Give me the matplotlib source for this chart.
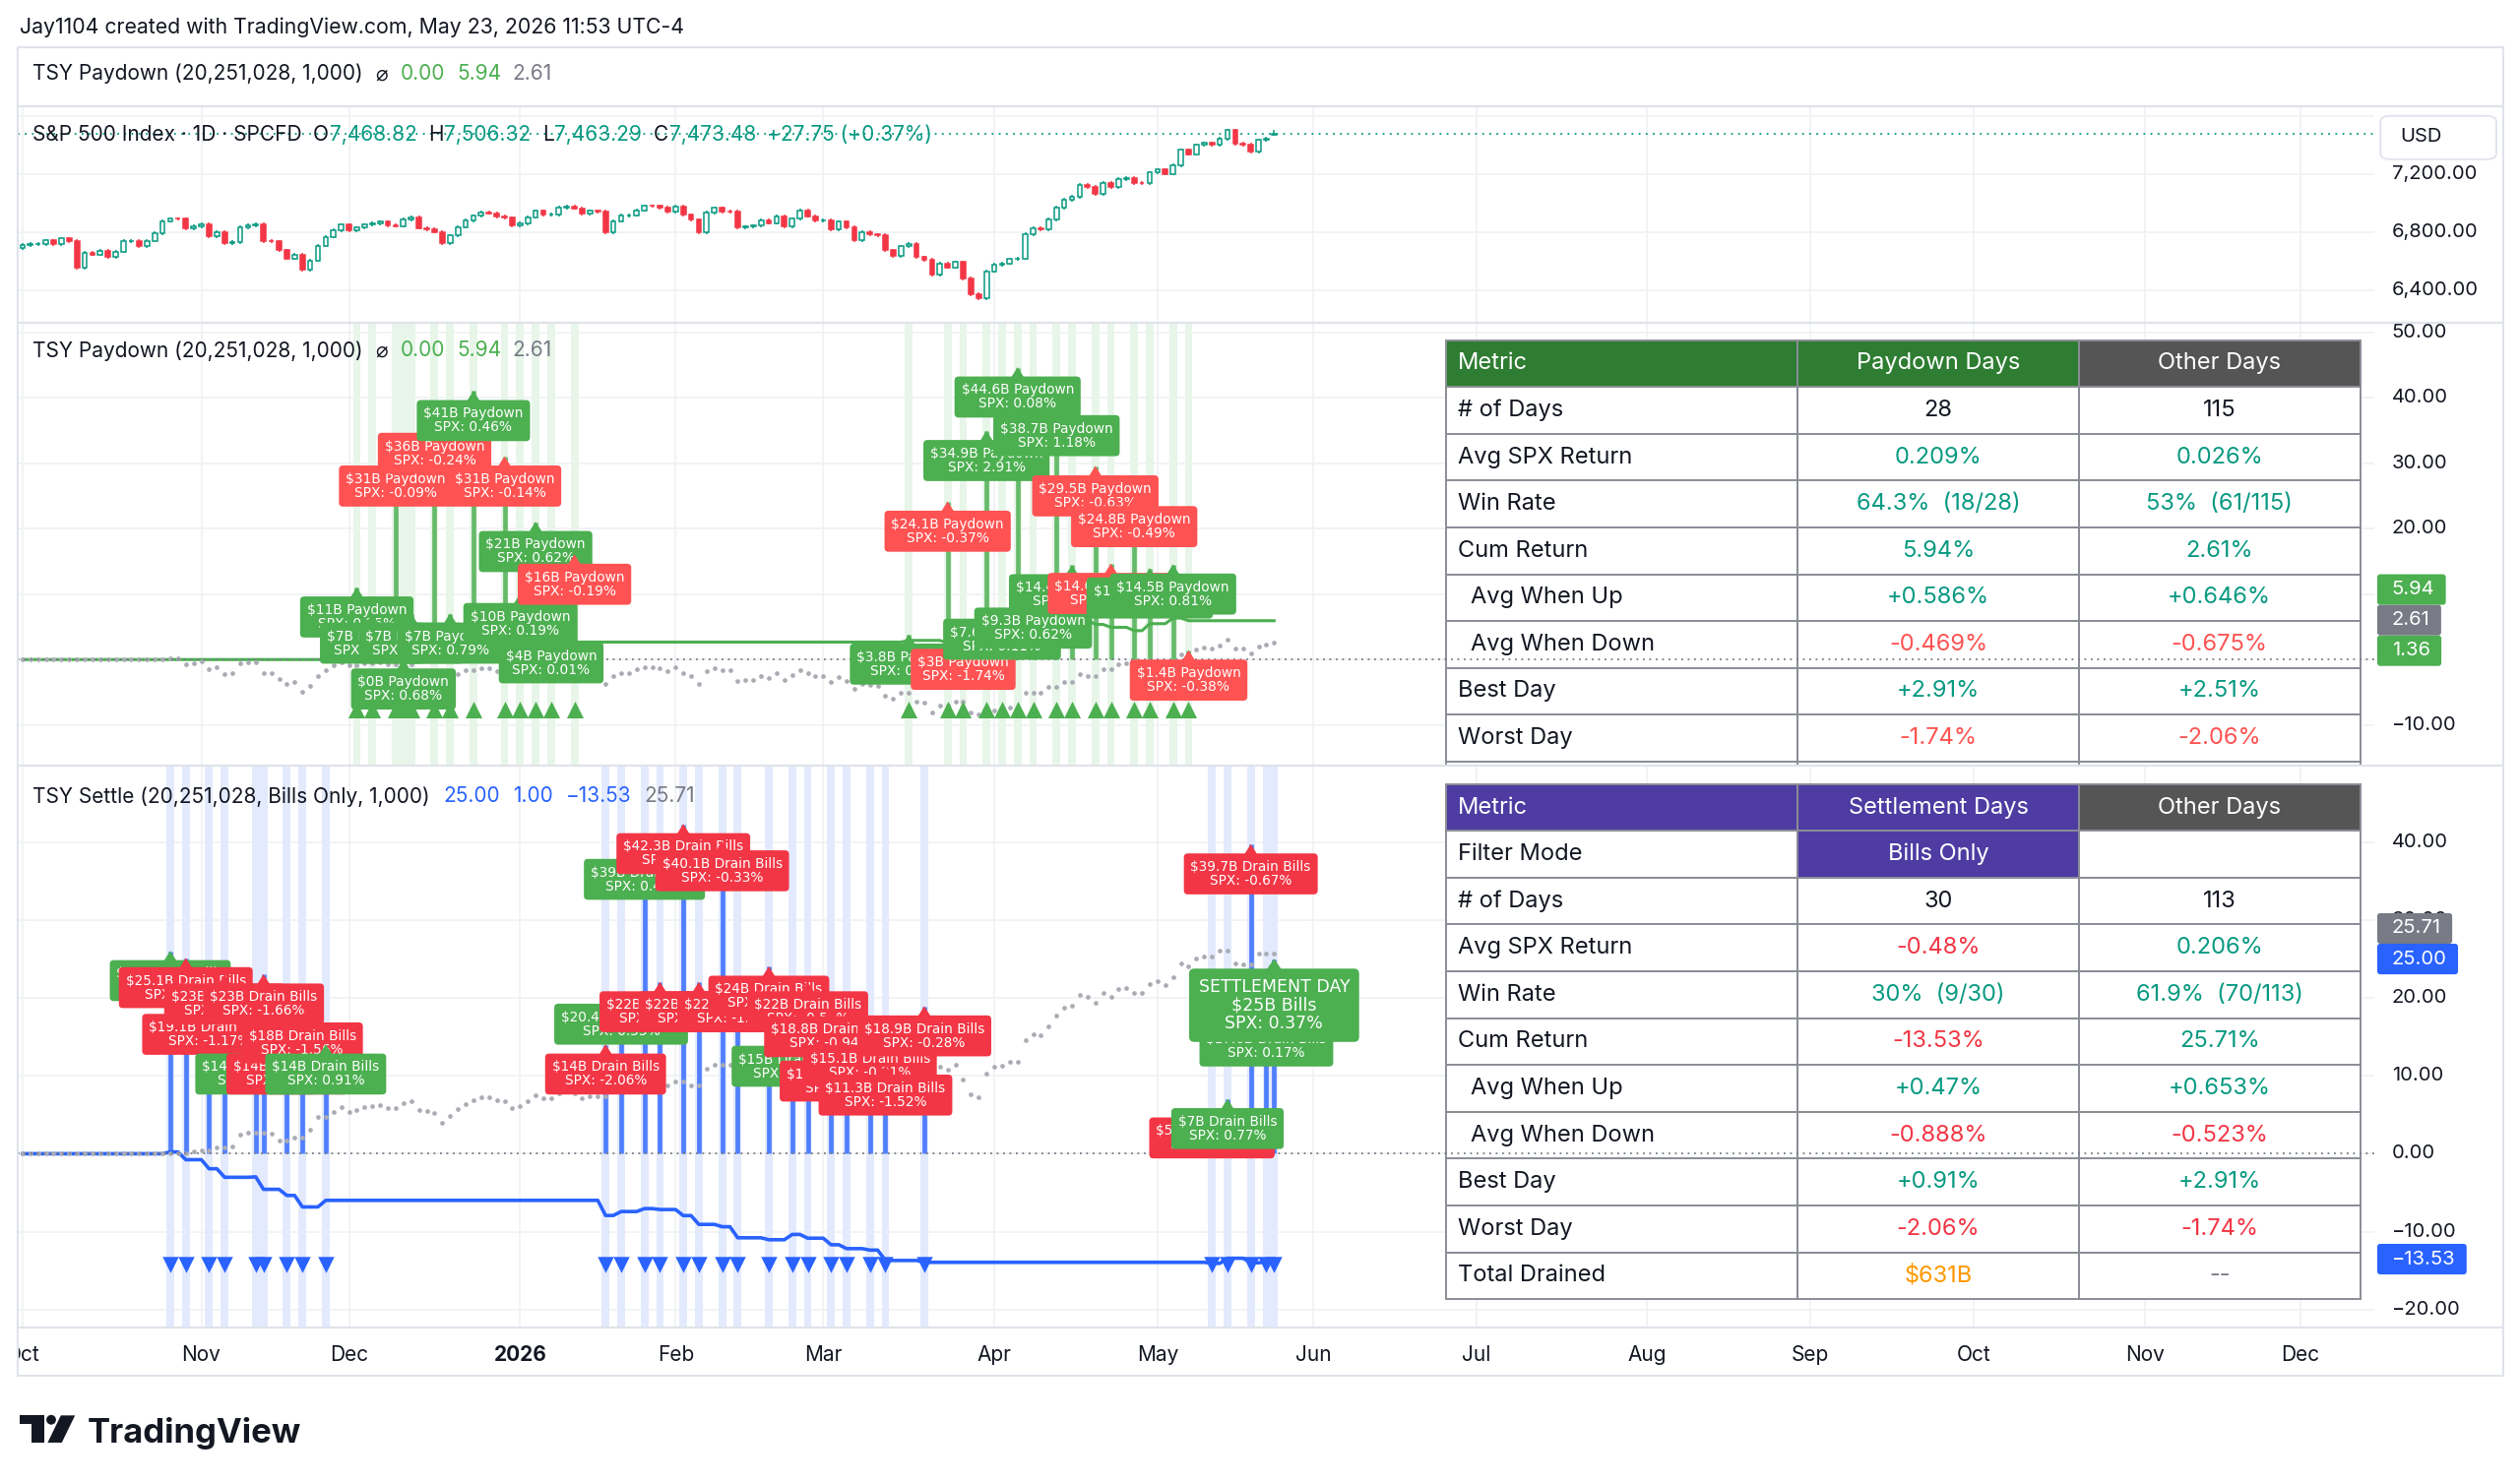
import numpy as np
import pandas as pd
import matplotlib
matplotlib.use("Agg")
import matplotlib.pyplot as plt
import matplotlib.transforms as mtrans
from matplotlib.patches import Rectangle, FancyBboxPatch, Polygon, Ellipse
from matplotlib.lines import Line2D

# ============================ DATA ============================
title_text = "Jay1104 created with TradingView.com, May 23, 2026 11:53 UTC-4"
holidays = ["2025-11-27", "2025-12-25", "2026-01-01", "2026-01-19", "2026-02-16",
            "2026-04-03", "2026-05-25", "2026-06-19", "2026-07-03", "2026-09-07",
            "2026-11-26", "2026-12-25"]
calendar_start, calendar_end = "2025-10-01", "2026-12-31"

prev_close = 6688.46
spx_close = [
    # Oct 2025
    6711.20, 6715.35, 6715.79, 6740.28, 6714.59, 6753.72, 6735.11, 6552.51, 6654.72, 6644.31,
    6671.06, 6629.07, 6664.01, 6735.13, 6735.35, 6699.40, 6738.44, 6791.69, 6875.16, 6890.89,
    6890.59, 6822.34, 6840.20,
    # Nov
    6851.97, 6771.55, 6796.29, 6720.32, 6728.80, 6832.43, 6846.61, 6850.92, 6737.49, 6734.11,
    6672.41, 6617.32, 6642.16, 6538.76, 6602.99, 6705.12, 6765.88, 6812.61, 6849.09,
    # Dec
    6812.63, 6829.37, 6849.72, 6857.12, 6870.40, 6846.51, 6840.51, 6886.68, 6901.00, 6827.41,
    6816.51, 6800.26, 6721.43, 6774.76, 6834.50, 6878.49, 6909.79, 6932.05, 6929.94, 6905.74,
    6896.24, 6845.50,
    # Jan 2026
    6858.47, 6902.05, 6944.82, 6920.93, 6921.46, 6966.28, 6977.27, 6963.74, 6926.60, 6944.47,
    6940.01, 6796.86, 6875.62, 6913.35, 6915.61, 6950.23, 6978.60, 6978.03, 6969.01, 6939.03,
    # Feb
    6976.44, 6917.81, 6882.72, 6798.40, 6932.30, 6964.82, 6941.81, 6941.47, 6832.76, 6836.17,
    6843.22, 6881.31, 6861.89, 6909.51, 6837.75, 6890.07, 6946.13, 6908.86, 6878.88,
    # Mar
    6881.62, 6816.63, 6869.50, 6830.71, 6740.02, 6795.99, 6781.48, 6775.80, 6672.62, 6632.19,
    6699.38, 6716.09, 6624.70, 6606.49, 6506.48, 6581.00, 6556.37, 6591.90, 6477.16, 6368.85,
    6343.72, 6528.52,
    # Apr
    6575.32, 6582.69, 6611.83, 6616.85, 6782.81, 6824.66, 6816.89, 6886.24, 6967.38, 7022.95,
    7041.28, 7126.06, 7109.14, 7064.01, 7137.90, 7108.40, 7165.08, 7173.91, 7138.80, 7135.95,
    7209.01,
    # May
    7230.12, 7200.75, 7259.22, 7365.12, 7337.11, 7398.93, 7412.84, 7400.96, 7444.25, 7501.24,
    7408.50, 7403.05, 7353.61, 7432.97, 7445.72, 7473.48,
]
last_open, last_high, last_low = 7468.82, 7506.32, 7463.29
calc_start = "2025-10-28"

paydown_dates = ["2025-12-02", "2025-12-04", "2025-12-09", "2025-12-10", "2025-12-11", "2025-12-16",
                 "2025-12-18", "2025-12-23", "2025-12-30", "2026-01-02", "2026-01-06", "2026-01-08",
                 "2026-01-13", "2026-03-17", "2026-03-24", "2026-03-26", "2026-03-31", "2026-04-02",
                 "2026-04-07", "2026-04-09", "2026-04-14", "2026-04-16", "2026-04-21", "2026-04-23",
                 "2026-04-28", "2026-04-30", "2026-05-05", "2026-05-07"]
paydown_amt = [11, 7, 31, 0, 7, 36, 7, 41, 31, 10, 21, 4, 16,
               3.8, 24.1, 3, 34.9, 7.6, 44.6, 9.3, 38.7, 14.4, 29.5, 14.6, 24.8, 13.9, 14.5, 1.36]
paydown_spx = [0.25, 0.11, -0.09, 0.68, 0.21, -0.24, 0.79, 0.46, -0.14, 0.19, 0.62, 0.01, -0.19,
               0.25, -0.37, -1.74, 2.91, 0.11, 0.08, 0.62, 1.18, 0.26, -0.63, -0.41, -0.49, 1.02, 0.81, -0.38]

settle_dates = ["2025-10-28", "2025-10-30", "2025-11-04", "2025-11-06", "2025-11-12", "2025-11-13",
                "2025-11-18", "2025-11-20", "2025-11-25", "2026-01-20", "2026-01-22", "2026-01-27",
                "2026-01-29", "2026-02-03", "2026-02-05", "2026-02-10", "2026-02-12", "2026-02-19",
                "2026-02-24", "2026-02-26", "2026-03-03", "2026-03-05", "2026-03-10", "2026-03-12",
                "2026-03-19", "2026-05-12", "2026-05-14", "2026-05-19", "2026-05-21", "2026-05-22"]
settle_amt = [26, 25.1, 19.1, 23, 14, 23, 14, 18, 14,
              14, 20.4, 39, 22, 42.3, 22, 40.1, 22, 24, 15, 22, 18.8, 13.1, 15.1, 11.3, 18.9,
              5.8, 7, 39.7, 17.6, 25]
settle_spx = [0.23, -0.99, -1.17, -1.12, 0.06, -1.66, -0.83, -1.56, 0.91,
              -2.06, 0.55, 0.41, -0.13, -0.84, -1.23, -0.33, -1.57, -0.28, 0.77, -0.54, -0.94, -0.57,
              -0.21, -1.52, -0.28, -0.16, 0.77, -0.67, 0.17, 0.37]

pay_header_main = "TSY Paydown (20,251,028, 1,000)"
pay_header_vals = ["0.00", "5.94", "2.61"]
settle_header_main = "TSY Settle (20,251,028, Bills Only, 1,000)"
settle_header_vals = ["25.00", "1.00", "\u221213.53", "25.71"]
spx_header = "S&P 500 Index \u00b7 1D \u00b7 SPCFD"
ohlc_header = [("O", "7,468.82"), ("H", "7,506.32"), ("L", "7,463.29"), ("C", "7,473.48")]
chg_header = "+27.75 (+0.37%)"
pay_axis_boxes = ["5.94", "2.61", "1.36"]
settle_axis_boxes = ["25.71", "25.00", "\u221213.53"]

price_grid = [7600, 7200, 6800, 6400]
price_ticks = [7200, 6800, 6400]
mid_ticks = [50, 40, 30, 20, 10, 0, -10]
bot_ticks = [40, 30, 20, 10, 0, -10, -20]

pay_table_header = ["Metric", "Paydown Days", "Other Days"]
pay_table_rows = [
    ["# of Days", "28", "115"],
    ["Avg SPX Return", "0.209%", "0.026%"],
    ["Win Rate", "64.3%  (18/28)", "53%  (61/115)"],
    ["Cum Return", "5.94%", "2.61%"],
    ["  Avg When Up", "+0.586%", "+0.646%"],
    ["  Avg When Down", "-0.469%", "-0.675%"],
    ["Best Day", "+2.91%", "+2.51%"],
    ["Worst Day", "-1.74%", "-2.06%"],
    ["", "", ""],
]
settle_table_header = ["Metric", "Settlement Days", "Other Days"]
settle_table_rows = [
    ["Filter Mode", "Bills Only", ""],
    ["# of Days", "30", "113"],
    ["Avg SPX Return", "-0.48%", "0.206%"],
    ["Win Rate", "30%  (9/30)", "61.9%  (70/113)"],
    ["Cum Return", "-13.53%", "25.71%"],
    ["  Avg When Up", "+0.47%", "+0.653%"],
    ["  Avg When Down", "-0.888%", "-0.523%"],
    ["Best Day", "+0.91%", "+2.91%"],
    ["Worst Day", "-2.06%", "-1.74%"],
    ["Total Drained", "$631B", "--"],
]

# ============================ STYLE ============================
UI = ["Inter", "DejaVu Sans"]
LBL = ["DejaVu Sans"]
DARK = "#131722"
TEAL = "#089981"
CRED = "#F23645"
GREEN = "#4CAF50"
GRAY = "#787B86"
BLUE = "#2962FF"
GRID = "#F0F1F4"
SEP = "#E0E3EB"
WICK = 12.0
HDR_FS = 15.0
MID_LBL_FS = 9.9
BOT_LBL_FS = 9.8

W_PX, H_PX = 2560, 1507
DW, DH = 1565.7, 921.7          # reference layout units
SC = W_PX / DW
PL, PR = 11.0, 1475.0
BAR0, BARW = 14.0, 4.83
AXIS_TX = 1486.0


def FX(x):
    return x / DW


def FY(y):
    return 1.0 - y / DH


fig = plt.figure(figsize=(W_PX / 100, H_PX / 100), dpi=100)
fig.patch.set_facecolor("white")
renderer = fig.canvas.get_renderer()

XMIN = (PL - BAR0) / BARW
XMAX = (PR - BAR0) / BARW


def add_pane(top, bot, ylim):
    ax = fig.add_axes([FX(PL), FY(bot), (PR - PL) / DW, (bot - top) / DH])
    ax.set_axis_off()
    ax.set_xlim(XMIN, XMAX)
    ax.set_ylim(*ylim)
    ax.set_autoscale_on(False)
    return ax


P_TOP, P_BOT = 66.3, 200.8
M_TOP, M_BOT = 200.8, 476.0
B_TOP, B_BOT = 476.0, 825.0
T_BOT = 855.0
ax_p = add_pane(P_TOP, P_BOT, (6171, 7664))
ax_m = add_pane(M_TOP, M_BOT, (-16.24, 51.4))
ax_b = add_pane(B_TOP, B_BOT, (-22.3, 49.8))
ax_t = add_pane(B_BOT, T_BOT, (0, 1))

# ---------------- calendar / derived series ----------------
days = pd.bdate_range(calendar_start, calendar_end)
days = days[~days.isin(pd.to_datetime(holidays))]
n = len(spx_close)
idx_of = {d: i for i, d in enumerate(days)}
xs = np.arange(n)

closes = np.array(spx_close, dtype=float)
prevs = np.concatenate([[prev_close], closes[:-1]])
rets = closes / prevs - 1.0
opens = prevs.copy()
opens[-1] = last_open
highs = np.maximum(opens, closes) + WICK
lows = np.minimum(opens, closes) - WICK
highs[-1], lows[-1] = last_high, last_low

start = idx_of[pd.Timestamp(calc_start)]
active = xs >= start


def cum_split(dates):
    ev = np.array([idx_of[pd.Timestamp(d)] for d in dates])
    flag = np.zeros(n, bool)
    flag[ev] = True
    f_ev = np.where(active & flag, 1 + rets, 1.0)
    f_ot = np.where(active & ~flag, 1 + rets, 1.0)
    return ev, (np.cumprod(f_ev) - 1) * 100, (np.cumprod(f_ot) - 1) * 100


pay_idx, pay_cum, pay_oth = cum_split(paydown_dates)
set_idx, set_cum, set_oth = cum_split(settle_dates)

month_idx, month_lbl = [], []
for k in range(len(days)):
    if k == 0 or days[k].month != days[k - 1].month:
        month_idx.append(k)
        month_lbl.append(str(days[k].year) if days[k].month == 1 else days[k].strftime("%b"))

# ---------------- frame, separators, grid ----------------
fig.add_artist(Rectangle((FX(11), FY(T_BOT)), (1555 - 11) / DW, (T_BOT - 29.6) / DH,
                         transform=fig.transFigure, fill=False, ec=SEP, lw=1.5))
for yy in [66.3, 200.8, 476.0, 825.0]:
    fig.add_artist(Line2D([FX(11), FX(1555)], [FY(yy), FY(yy)], transform=fig.transFigure,
                          color=SEP, lw=1.6))

for ax, ticks in [(ax_p, price_grid), (ax_m, mid_ticks), (ax_b, bot_ticks)]:
    for m in month_idx:
        ax.axvline(m, color=GRID, lw=1.2, zorder=0.3)
    for t in ticks:
        ax.axhline(t, color=GRID, lw=1.2, zorder=0.3)

# ---------------- right axis labels ----------------
def axis_labels(ax, ticks, fmt):
    tr = mtrans.blended_transform_factory(fig.transFigure, ax.transData)
    for t in ticks:
        ax.text(FX(AXIS_TX), t, fmt(t), transform=tr, ha="left", va="center", fontsize=14.5,
                family=UI, color=DARK, clip_on=False)


axis_labels(ax_p, price_ticks, lambda v: f"{v:,.2f}")
axis_labels(ax_m, mid_ticks, lambda v: f"{v:.2f}".replace("-", "\u2212"))
axis_labels(ax_b, bot_ticks, lambda v: f"{v:.2f}".replace("-", "\u2212"))

# ---------------- price pane (candles) ----------------
for i in xs:
    o, c, h, l = opens[i], closes[i], highs[i], lows[i]
    up = c >= o
    col = TEAL if up else CRED
    lo_b, hi_b = min(o, c), max(o, c)
    body = max(hi_b - lo_b, 1.5)
    ax_p.add_patch(Rectangle((i - 0.3, lo_b), 0.6, body, fc="white" if up else CRED,
                             ec=col, lw=1.1, zorder=3))
    ax_p.plot([i, i], [lo_b + body, h], color=col, lw=1.1, zorder=2.5, solid_capstyle="butt")
    ax_p.plot([i, i], [l, lo_b], color=col, lw=1.1, zorder=2.5, solid_capstyle="butt")
ax_p.axhline(closes[-1], color=TEAL, lw=1.3, ls=(0, (1, 3)), zorder=2)

# ---------------- label helper ----------------
def fmt_amt(a):
    s = f"{a:.1f}"
    return s[:-2] if s.endswith(".0") else s


def draw_label(ax, x, y, text, color, fs, z, ptr_w=9.6, ptr_h=6.5, pad=0.5, ls=1.0):
    tpt = (mtrans.Affine2D().scale(1 / 72.0) + fig.dpi_scale_trans +
           mtrans.ScaledTranslation(x, y, ax.transData))
    tri = Polygon([(0, 0.3), (-ptr_w / 2, -ptr_h - 0.8), (ptr_w / 2, -ptr_h - 0.8)],
                  closed=True, transform=tpt, fc=color, ec="none", zorder=z)
    ax.add_artist(tri)
    tri.set_clip_path(ax.patch)
    toff = mtrans.offset_copy(ax.transData, fig=fig, x=0, y=-(ptr_h + pad * fs), units="points")
    ax.text(x, y, text, transform=toff, ha="center", va="top", fontsize=fs, color="white",
            family=LBL, linespacing=ls, multialignment="center", zorder=z, clip_on=True,
            bbox=dict(boxstyle=f"round,pad={pad},rounding_size=0.3", fc=color, ec="none"))


def blend(ax):
    return mtrans.blended_transform_factory(ax.transData, ax.transAxes)


# ---------------- middle pane (paydown) ----------------
for i in pay_idx:
    ax_m.axvspan(i - 0.5, i + 0.5, color="#E8F5E9", lw=0, zorder=0.5)
ax_m.vlines(pay_idx, 0, paydown_amt, colors="#66BB6A", lw=3.4, zorder=2)
ax_m.plot(xs, pay_cum, color=GREEN, lw=2.2, zorder=3)
ax_m.plot(xs, pay_oth, ls="none", marker="o", ms=3.4, color="#AAACB4", mec="none", zorder=3.2)
ax_m.scatter(pay_idx, np.full(len(pay_idx), 0.127), transform=blend(ax_m), marker="^",
             s=150, color=GREEN, lw=0, zorder=4)
ax_m.axhline(0, color=GRAY, lw=1.3, ls=(0, (1, 2.6)), zorder=6)
for k, (i, a, r) in enumerate(zip(pay_idx, paydown_amt, paydown_spx)):
    draw_label(ax_m, i, a, f"${fmt_amt(a)}B Paydown\nSPX: {r:.2f}%",
               GREEN if r >= 0 else "#FF5252", MID_LBL_FS, 10 + k * 0.01)

# ---------------- bottom pane (settlement) ----------------
for i in set_idx:
    ax_b.axvspan(i - 0.5, i + 0.5, color="#E3EAFD", lw=0, zorder=0.5)
ax_b.vlines(set_idx, 0, settle_amt, colors="#4F7FFF", lw=3.4, zorder=2)
ax_b.plot(xs, set_cum, color=BLUE, lw=2.6, zorder=3)
ax_b.plot(xs, set_oth, ls="none", marker="o", ms=3.4, color="#AAACB4", mec="none", zorder=3.2)
ax_b.scatter(set_idx, np.full(len(set_idx), 0.112), transform=blend(ax_b), marker="v",
             s=140, color=BLUE, lw=0, zorder=4)
ax_b.axhline(0, color=GRAY, lw=1.3, ls=(0, (1, 2.6)), zorder=6)
for k, (i, a, r) in enumerate(zip(set_idx, settle_amt, settle_spx)):
    col = GREEN if r >= 0 else CRED
    if i == n - 1:
        draw_label(ax_b, i, a, f"SETTLEMENT DAY\n${fmt_amt(a)}B Bills\nSPX: {r:.2f}%", col,
                   12.5, 10 + k * 0.01, ptr_w=11, ptr_h=7, pad=0.55, ls=1.05)
    else:
        draw_label(ax_b, i, a, f"${fmt_amt(a)}B Drain Bills\nSPX: {r:.2f}%", col, BOT_LBL_FS,
                   10 + k * 0.01)

# ---------------- tables ----------------
TBL_X0, TBL_COLW, TBL_ROWH = 898.5, [218.5, 174.5, 175.0], 29.1


def draw_table(ax, top_pane, bot_pane, y0, header, header_bg, rows, cell_style, red):
    def AX(x):
        return (x - PL) / (PR - PL)

    def AY(y):
        return (bot_pane - y) / (bot_pane - top_pane)

    for r, row in enumerate([header] + rows):
        yt = y0 + r * TBL_ROWH
        x = TBL_X0
        for c, txt in enumerate(row):
            fc = header_bg[c] if r == 0 else "white"
            if r == 0:
                tc = "white"
            elif c == 0 or "Days" in row[0]:
                tc = DARK
            elif txt.startswith("-") and txt != "--":
                tc = red
            elif txt.startswith("$"):
                tc = "#FF9800"
            elif txt == "--":
                tc = GRAY
            else:
                tc = TEAL
            if (r, c) in cell_style:
                fc, tc = cell_style[(r, c)]
            w = TBL_COLW[c]
            ax.add_patch(Rectangle((AX(x), AY(yt + TBL_ROWH)), AX(x + w) - AX(x),
                                   AY(yt) - AY(yt + TBL_ROWH), transform=ax.transAxes,
                                   fc=fc, ec="#8A8D96", lw=1.4, zorder=5))
            if txt:
                if c == 0:
                    indent = 15 if txt.startswith("  ") else 7
                    tx, ha = AX(x + indent), "left"
                else:
                    tx, ha = AX(x + w / 2), "center"
                ax.text(tx, AY(yt + TBL_ROWH / 2), txt.strip(), transform=ax.transAxes, ha=ha,
                        va="center", fontsize=17, family=UI, color=tc, zorder=5.5)
            x += w


draw_table(ax_m, M_TOP, M_BOT, 211.4, pay_table_header, ["#2E7D32", "#2E7D32", "#555555"],
           pay_table_rows, {}, "#FF5252")
draw_table(ax_b, B_TOP, B_BOT, 487.3, settle_table_header, ["#4E3CA2", "#4E3CA2", "#555555"],
           settle_table_rows, {(1, 1): ("#4E3CA2", "white")}, CRED)

# ---------------- right-axis value boxes ----------------
def value_boxes(ax, items, box_left=1477.0):
    hpx = 19.0 * SC
    pts = sorted([(ax.transData.transform((0, v))[1], t, c) for v, t, c in items])
    last = -1e9
    for ypx, txt, col in pts:
        ypx = max(ypx, last + hpx)
        last = ypx
        t = fig.text(AXIS_TX * SC, ypx, txt, transform=mtrans.IdentityTransform(), color="white",
                     fontsize=14.5, family=UI, ha="left", va="center", zorder=21)
        w = t.get_window_extent(renderer).width
        fig.add_artist(FancyBboxPatch((box_left * SC, ypx - hpx / 2),
                                      (AXIS_TX - box_left) * SC + w + 7 * SC, hpx,
                                      boxstyle="round,pad=0,rounding_size=3",
                                      transform=mtrans.IdentityTransform(), fc=col, ec="none",
                                      zorder=20))


value_boxes(ax_m, [(pay_cum[-1], pay_axis_boxes[0], GREEN), (pay_oth[-1], pay_axis_boxes[1], GRAY),
                   (paydown_amt[-1], pay_axis_boxes[2], GREEN)])
value_boxes(ax_b, [(set_oth[-1], settle_axis_boxes[0], GRAY), (settle_amt[-1], settle_axis_boxes[1], BLUE),
                   (set_cum[-1], settle_axis_boxes[2], BLUE)])

# USD box
fig.add_artist(FancyBboxPatch((FX(1479), FY(99.0)), (1551 - 1479) / DW, (99.0 - 72.0) / DH,
                              boxstyle="round,pad=0,rounding_size=0.004", transform=fig.transFigure,
                              fc="white", ec=SEP, lw=1.3, zorder=20))
fig.text(FX(1491), FY(85.3), "USD", fontsize=14.5, family=UI, color=DARK, ha="left", va="center",
         zorder=21)

# ---------------- time axis ----------------
for m, lab in zip(month_idx, month_lbl):
    ax_t.text(m, 0.43, lab, transform=blend(ax_t), ha="center", va="center", fontsize=15,
              family=UI, color=DARK, fontweight="bold" if lab.isdigit() else "normal",
              clip_on=True)

# ---------------- header texts ----------------
def inline(x, y, pieces, fs=HDR_FS):
    for txt, color, gap in pieces:
        t = fig.text(FX(x), FY(y), txt, color=color, fontsize=fs, family=UI, ha="left",
                     va="center", zorder=30)
        x += t.get_window_extent(renderer).width / SC + gap
    return x


fig.text(FX(12), FY(17), title_text, fontsize=15.3, family=UI, color=DARK, ha="left", va="center")
for yy in [46, 218]:
    inline(20, yy, [(pay_header_main, DARK, 8), ("\u2300", DARK, 8), (pay_header_vals[0], GREEN, 7),
                    (pay_header_vals[1], GREEN, 7), (pay_header_vals[2], GRAY, 0)])
inline(20, 495, [(settle_header_main, DARK, 8.5)] +
       [(v, BLUE, 8) for v in settle_header_vals[:3]] + [(settle_header_vals[3], GRAY, 0)])
pieces = [(spx_header, DARK, 7)]
for letter, val in ohlc_header:
    pieces += [(letter, DARK, 0.5), (val, TEAL, 7)]
pieces += [(chg_header, TEAL, 0)]
inline(20, 84, pieces)

# ---------------- TradingView logo ----------------
fig.add_artist(Polygon([(FX(12), FY(879.7)), (FX(27.3), FY(879.7)), (FX(27.3), FY(896.6)),
                        (FX(19.6), FY(896.6)), (FX(19.6), FY(885.0)), (FX(12), FY(885.0))],
                       closed=True, transform=fig.transFigure, fc=DARK, ec="none"))
fig.add_artist(Ellipse((FX(31.8), FY(882.4)), 6.0 / DW, 6.0 / DH, transform=fig.transFigure,
                       fc=DARK, ec="none"))
fig.add_artist(Polygon([(FX(37.8), FY(879.7)), (FX(46.6), FY(879.7)), (FX(38.4), FY(896.6)),
                        (FX(29.6), FY(896.6))], closed=True, transform=fig.transFigure,
                       fc=DARK, ec="none"))
fig.text(FX(54.5), FY(896.6), "TradingView", fontsize=25, family=UI, fontweight="bold",
         color=DARK, ha="left", va="baseline")

fig.savefig("out.png", dpi=100, facecolor="white")
